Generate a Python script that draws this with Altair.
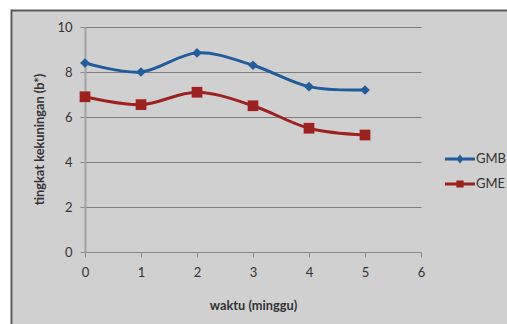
import altair as alt
import pandas as pd

# Yellowness (b*) of two samples measured weekly
weeks = [0, 1, 2, 3, 4, 5]
gmb = [8.4, 8.0, 8.85, 8.3, 7.35, 7.2]
gme = [6.9, 6.55, 7.1, 6.5, 5.5, 5.2]
series = ["GMB", "GME"]
x_ticks = [0, 1, 2, 3, 4, 5, 6]
y_ticks = [0, 2, 4, 6, 8, 10]

colors = ["#235b9b", "#9d2121"]
FONT = "Lato"
TEXT = "#333333"

df = pd.DataFrame(
    {
        "waktu": weeks * 2,
        "b": gmb + gme,
        "seri": [series[0]] * len(weeks) + [series[1]] * len(weeks),
    }
)

W, H = 336, 225
PAD = {"left": 85, "top": 27, "right": 86, "bottom": 72}

# legend symbols: a short line with the series marker on top
line_part = "M-1.5,-0.14L1.5,-0.14L1.5,0.14L-1.5,0.14Z"
diamond_part = "M0,-0.45L0.36,0L0,0.45L-0.36,0Z"
square_part = "M-0.36,-0.36L0.36,-0.36L0.36,0.36L-0.36,0.36Z"
shape_expr = (
    f"datum.value === '{series[0]}' ? '{line_part} {diamond_part}' "
    f": '{line_part} {square_part}'"
)
fill_expr = f"datum.value === '{series[0]}' ? '{colors[0]}' : '{colors[1]}'"

color_scale = alt.Scale(domain=series, range=colors)
legend = alt.Legend(
    title=None,
    orient="none",
    legendX=365,
    legendY=122,
    symbolSize=400,
    symbolType=alt.ExprRef(expr=shape_expr),
    symbolFillColor=alt.ExprRef(expr=fill_expr),
    symbolStrokeWidth=0,
    symbolOpacity=1,
    labelOffset=6,
    rowPadding=8,
    labelFont=FONT,
    labelFontSize=13,
    labelColor=TEXT,
)

x_enc = alt.X(
    "waktu:Q",
    scale=alt.Scale(domain=[0, 6], nice=False),
    axis=alt.Axis(
        values=x_ticks,
        grid=False,
        tickSize=5,
        tickColor="#8a8a8a",
        domainColor="#8a8a8a",
        labelPadding=9,
        labelFlush=False,
        labelFont=FONT,
        labelFontSize=13,
        labelColor=TEXT,
        title="waktu (minggu)",
        titleFont=FONT,
        titleFontSize=12.8,
        titleFontWeight="bold",
        titleColor=TEXT,
        titleY=57,
        titleBaseline="alphabetic",
    ),
)
y_enc = alt.Y(
    "b:Q",
    scale=alt.Scale(domain=[0, 10], nice=False),
    axis=alt.Axis(
        values=y_ticks,
        grid=True,
        gridColor="#7f7f7f",
        gridWidth=1,
        tickSize=5,
        tickColor="#8a8a8a",
        domainColor="#a3a3a3",
        domainWidth=2,
        labelPadding=8,
        labelFont=FONT,
        labelFontSize=13,
        labelColor=TEXT,
        title="tingkat kekuningan (b*)",
        titleFont=FONT,
        titleFontSize=12.8,
        titleFontWeight="bold",
        titleColor=TEXT,
        titleX=-42,
        titleY=112,
        titleBaseline="alphabetic",
    ),
)

base = alt.Chart(df).encode(
    x=x_enc,
    y=y_enc,
    color=alt.Color("seri:N", scale=color_scale, legend=legend),
)

lines = base.mark_line(interpolate="cardinal", strokeWidth=3)
pts_gmb = base.mark_point(
    filled=True, opacity=1, shape="diamond", size=95
).transform_filter(alt.datum.seri == series[0])
pts_gme = base.mark_point(
    filled=True, opacity=1, shape="square", size=115
).transform_filter(alt.datum.seri == series[1])

# framed grey panel: white margin strips at top/left and a dark edge line
frame_df = pd.DataFrame({"k": [0]})
frame = alt.Chart(frame_df)
strip_top = frame.mark_rect(color="white").encode(
    x=alt.value(-90), x2=alt.value(440), y=alt.value(-30), y2=alt.value(-16.5)
)
strip_left = frame.mark_rect(color="white").encode(
    x=alt.value(-90), x2=alt.value(-72.5), y=alt.value(-30), y2=alt.value(320)
)
edge_top = frame.mark_rule(color="#5a5a5a", strokeWidth=2).encode(
    x=alt.value(-73.5), x2=alt.value(440), y=alt.value(-16.5)
)
edge_left = frame.mark_rule(color="#5a5a5a", strokeWidth=2).encode(
    x=alt.value(-73.5), y=alt.value(-17.5), y2=alt.value(320)
)

chart = (
    alt.layer(strip_top, strip_left, edge_top, edge_left, lines, pts_gmb, pts_gme)
    .properties(
        width=W,
        height=H,
        autosize=alt.AutoSizeParams(type="none"),
        padding=PAD,
        background="#d0d0d0",
    )
    .configure_view(stroke="transparent")
)

chart.save("out.html", embed_options={"renderer": "svg", "actions": False})
